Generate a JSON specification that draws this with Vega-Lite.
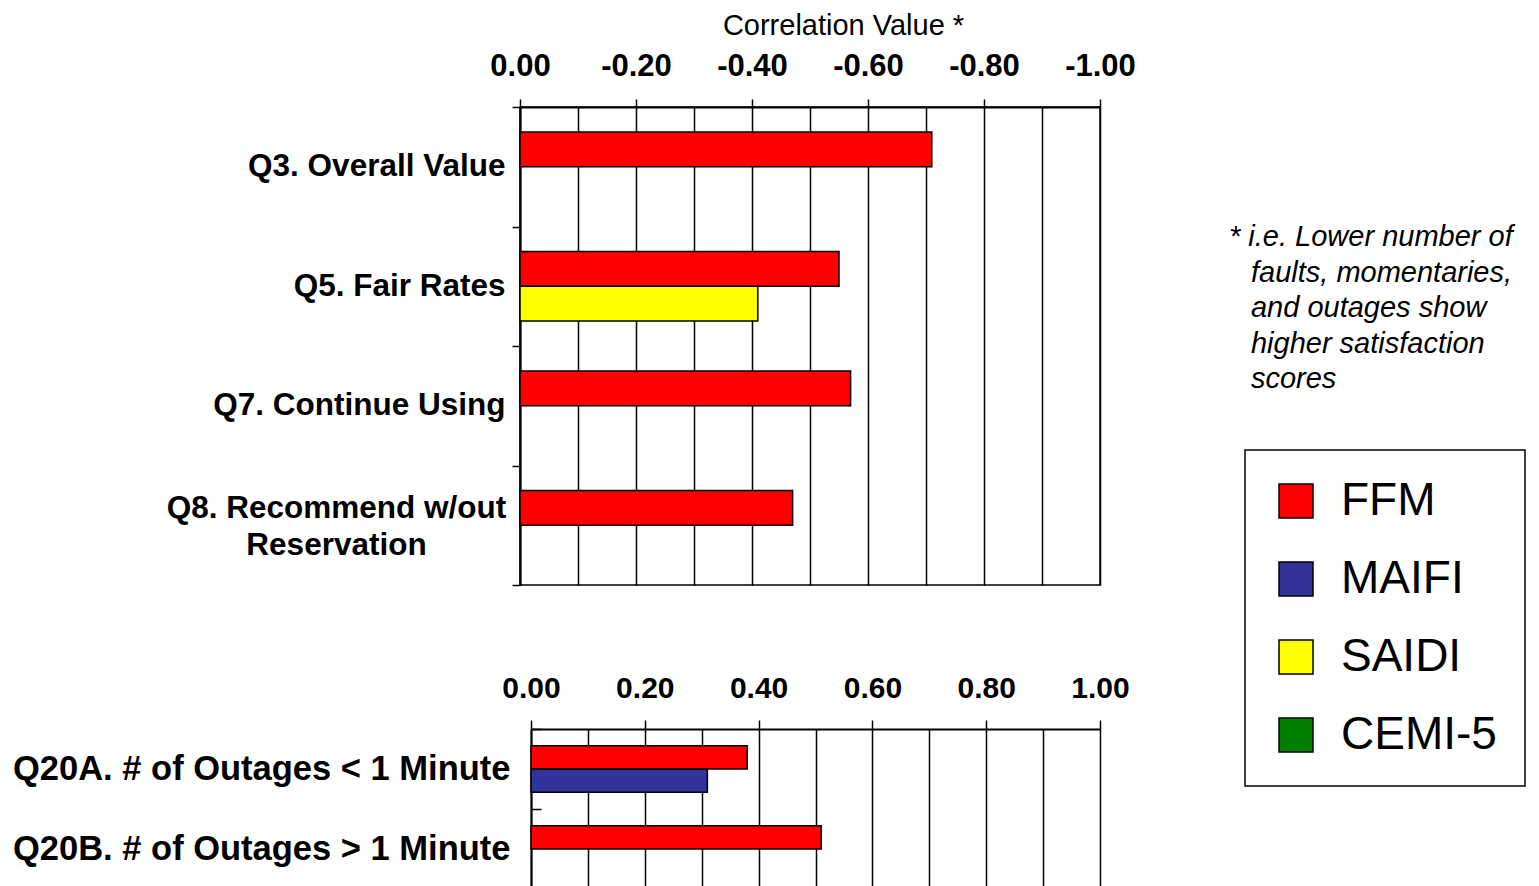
{
  "$schema": "https://vega.github.io/schema/vega-lite/v6.json",
  "background": "white",
  "padding": {"left": 12, "top": 10, "right": 5, "bottom": 0},
  "config": {
    "font": "Liberation Sans",
    "view": {"stroke": null},
    "axis": {
      "labelFont": "Liberation Sans",
      "titleFont": "Liberation Sans",
      "labelColor": "black",
      "titleColor": "black",
      "domainColor": "black",
      "tickColor": "black",
      "gridColor": "black",
      "gridOpacity": 1
    },
    "legend": {
      "title": null,
      "symbolType": "square",
      "symbolSize": 1156,
      "symbolStrokeColor": "black",
      "symbolStrokeWidth": 1.5,
      "symbolOpacity": 1,
      "labelFont": "Liberation Sans",
      "labelFontSize": 46,
      "labelColor": "black",
      "labelOffset": 22,
      "labelLimit": 400,
      "rowPadding": 32,
      "padding": 28,
      "strokeColor": "black",
      "strokeWidth": 1.5,
      "fillColor": "white"
    }
  },
  "datasets": {
    "ratings": [
      {"question": "Q3. Overall Value", "series": "FFM", "r": -0.71},
      {"question": "Q5. Fair Rates", "series": "FFM", "r": -0.55},
      {"question": "Q5. Fair Rates", "series": "SAIDI", "r": -0.41},
      {"question": "Q7. Continue Using", "series": "FFM", "r": -0.57},
      {"question": "Q8. Recommend w/out Reservation", "series": "FFM", "r": -0.47}
    ],
    "outages": [
      {"question": "Q20A. # of Outages < 1 Minute", "series": "FFM", "r": 0.38},
      {"question": "Q20A. # of Outages < 1 Minute", "series": "MAIFI", "r": 0.31},
      {"question": "Q20B. # of Outages > 1 Minute", "series": "FFM", "r": 0.51}
    ]
  },
  "spacing": 86,
  "resolve": {"scale": {"x": "independent", "y": "independent", "yOffset": "independent"}},
  "vconcat": [
    {
      "data": {"name": "ratings"},
      "width": 580,
      "height": 478,
      "view": {"stroke": "black", "strokeWidth": 1.5},
      "title": {
        "text": [
          "* i.e. Lower number of",
          "\u200b\u00a0\u00a0\u2009faults, momentaries,",
          "\u200b\u00a0\u00a0\u2009and outages show",
          "\u200b\u00a0\u00a0\u2009higher satisfaction",
          "\u200b\u00a0\u00a0\u2009scores"
        ],
        "orient": "right",
        "angle": 0,
        "anchor": "start",
        "frame": "group",
        "align": "left",
        "baseline": "top",
        "offset": -190,
        "dy": 116,
        "font": "Liberation Sans",
        "fontSize": 29,
        "fontStyle": "italic",
        "fontWeight": "normal",
        "lineHeight": 35.5,
        "color": "black"
      },
      "mark": {"type": "bar", "stroke": "black", "strokeWidth": 1.5},
      "encoding": {
        "y": {
          "field": "question",
          "type": "nominal",
          "sort": ["Q3. Overall Value", "Q5. Fair Rates", "Q7. Continue Using", "Q8. Recommend w/out Reservation"],
          "scale": {"paddingInner": 0, "paddingOuter": 0},
          "axis": {
            "title": null,
            "grid": false,
            "tickBand": "extent",
            "tickSize": 8,
            "tickWidth": 1.5,
            "domainWidth": 2,
            "labelFontSize": 31.5,
            "labelFontWeight": "bold",
            "labelLimit": 700,
            "labelLineHeight": 37,
            "labelOverlap": false,
            "labelExpr": "datum.value == 'Q8. Recommend w/out Reservation' ? ['Q8. Recommend w/out', 'Reservation'] : datum.label",
            "labelAlign": {"condition": {"test": "datum.value == 'Q8. Recommend w/out Reservation'", "value": "center"}, "value": "right"},
            "labelPadding": {"condition": {"test": "datum.value == 'Q8. Recommend w/out Reservation'", "value": 176}, "value": 7},
            "labelOffset": {"condition": {"test": "datum.value == 'Q8. Recommend w/out Reservation'", "value": -17}, "value": 0}
          }
        },
        "yOffset": {
          "field": "series",
          "type": "nominal",
          "scale": {"domain": ["FFM", "SAIDI"], "paddingInner": 0, "paddingOuter": 0.72}
        },
        "x": {
          "field": "r",
          "type": "quantitative",
          "scale": {"domain": [-1, 0], "reverse": true, "nice": false},
          "axis": {
            "orient": "top",
            "values": [0, -0.1, -0.2, -0.3, -0.4, -0.5, -0.6, -0.7, -0.8, -0.9, -1],
            "labelExpr": "abs(round(datum.value * 10)) % 2 == 1 ? '' : (datum.value == 0 ? '0.00' : '-' + format(abs(datum.value), '.2f'))",
            "tickOpacity": {"condition": {"test": "abs(round(datum.value * 10)) % 2 == 1", "value": 0}, "value": 1},
            "tickSize": 8,
            "tickWidth": 1.5,
            "grid": true,
            "gridWidth": 1.5,
            "domainWidth": 2,
            "labelFontSize": 31,
            "labelFontWeight": "bold",
            "labelBaseline": "alphabetic",
            "labelPadding": 24,
            "labelFlush": false,
            "labelOverlap": false,
            "title": "Correlation Value *",
            "titleFontSize": 29,
            "titleFontWeight": "normal",
            "titleX": 323,
            "titleY": -73,
            "titleBaseline": "alphabetic"
          }
        },
        "color": {
          "field": "series",
          "type": "nominal",
          "scale": {"domain": ["FFM", "MAIFI", "SAIDI", "CEMI-5"], "range": ["#ff0000", "#333399", "#ffff00", "#008000"]},
          "legend": {"orient": "none", "legendX": 725, "legendY": 343}
        }
      }
    },
    {
      "data": {"name": "outages"},
      "width": 580,
      "height": 160,
      "mark": {"type": "bar", "stroke": "black", "strokeWidth": 1.5},
      "encoding": {
        "y": {
          "field": "question",
          "type": "nominal",
          "sort": ["Q20A. # of Outages < 1 Minute", "Q20B. # of Outages > 1 Minute"],
          "scale": {"paddingInner": 0, "paddingOuter": 0},
          "axis": {
            "title": null,
            "grid": false,
            "offset": -11,
            "tickBand": "extent",
            "tickSize": -10,
            "tickWidth": 1.5,
            "domainWidth": 2,
            "labelFontSize": 34.5,
            "labelFontWeight": "bold",
            "labelLimit": 700,
            "labelOverlap": false,
            "labelPadding": 31
          }
        },
        "yOffset": {
          "field": "series",
          "type": "nominal",
          "scale": {"domain": ["FFM", "MAIFI"], "paddingInner": 0, "paddingOuter": 0.72}
        },
        "x": {
          "field": "r",
          "type": "quantitative",
          "scale": {"domain": [0, 1], "range": [11, 580], "nice": false},
          "axis": {
            "orient": "top",
            "values": [0, 0.1, 0.2, 0.3, 0.4, 0.5, 0.6, 0.7, 0.8, 0.9, 1],
            "labelExpr": "abs(round(datum.value * 10)) % 2 == 1 ? '' : format(datum.value, '.2f')",
            "tickOpacity": {"condition": {"test": "abs(round(datum.value * 10)) % 2 == 1", "value": 0}, "value": 1},
            "tickSize": 9,
            "tickWidth": 1.5,
            "grid": true,
            "gridWidth": 1.5,
            "domainWidth": 2,
            "labelFontSize": 30,
            "labelFontWeight": "bold",
            "labelBaseline": "alphabetic",
            "labelPadding": 23,
            "labelFlush": false,
            "labelOverlap": false,
            "title": null
          }
        },
        "color": {
          "field": "series",
          "type": "nominal",
          "scale": {"domain": ["FFM", "MAIFI", "SAIDI", "CEMI-5"], "range": ["#ff0000", "#333399", "#ffff00", "#008000"]},
          "legend": {"orient": "none", "legendX": 725, "legendY": 343}
        }
      }
    }
  ]
}
